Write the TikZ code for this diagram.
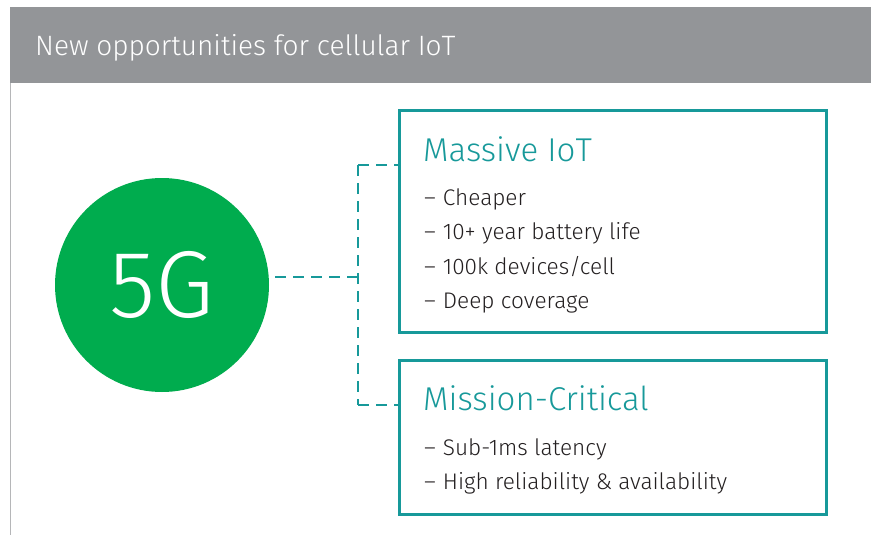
\documentclass[tikz,border=0pt]{standalone}
\usepackage{fontspec}
\setmainfont{Fira Sans}[UprightFont=* Light]
\usetikzlibrary{positioning}
\definecolor{headgrey}{HTML}{939598}
\definecolor{rulegrey}{HTML}{B5B6B8}
\definecolor{iotgreen}{HTML}{00AC4E}
\definecolor{iotteal}{HTML}{17999A}
\definecolor{listtext}{HTML}{231F20}
\begin{document}
\begin{tikzpicture}
[x=1pt,y=-1pt,
  boxdecorate/.style={draw=iotteal,line width=2.6pt,minimum width=427pt,
    minimum height=#1,anchor=north west,inner sep=0pt},
  linedecorate/.style={draw=iotteal,line width=2.6pt,dash pattern=on 11pt off 7pt},
  headtext/.style={anchor=base west,inner sep=0pt,text=iotteal,
    font=\fontsize{33}{33}\selectfont},
  itemtext/.style={anchor=base west,inner sep=0pt,text=listtext,
    font=\fontsize{22.6}{22.6}\selectfont}]
\useasboundingbox (0,0) rectangle (871,535);
%% header and frame
\fill[headgrey] (10,7) rectangle (871,83);
\draw[rulegrey,line width=1.5pt] (10.5,83) -- (10.5,535);
\node (header) at (35,56) [anchor=base west,inner sep=0pt,text=white,
  font=\fontsize{28}{28}\selectfont] {New opportunities for cellular IoT};
%% nodes or vertices
\node (fiveG) at (162,285) [circle,fill=iotgreen,minimum size=214pt,
  inner sep=0pt,text=white,font=\fontsize{95}{95}\selectfont] {5G};
\node (massive) at (398,109) [boxdecorate=222pt] {};
\node (mission) at (398,359) [boxdecorate=154pt] {};
\node (massivehead) at (423,161) [headtext] {Massive IoT};
\node (missionhead) at (423,410) [headtext] {Mission-Critical};
\foreach \nodename/\y/\item in {cheap/205/Cheaper, battery/239/10+ year battery life,
  devices/274/{100k devices/cell}, coverage/308/Deep coverage,
  latency/455/Sub-1ms latency, reliable/489/High reliability \& availability} {
  \node (\nodename) at (424,\y) [itemtext] {–\hspace{7pt}\item};
}
%% edges or lines
\coordinate (junction) at (358,277);
\coordinate (upper) at (358,165);
\coordinate (lower) at (358,405);
\path[linedecorate]
  (fiveG.east |- junction) ++(6,0) edge (junction)
  (upper) edge (massive.west |- upper)
  (upper) edge (lower)
  (lower) edge (mission.west |- lower);
\end{tikzpicture}
\end{document}
